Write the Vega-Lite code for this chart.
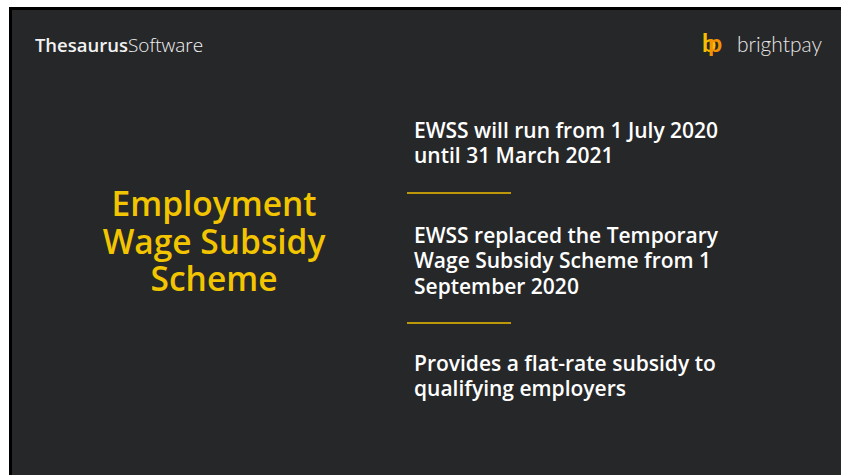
{
  "$schema": "https://vega.github.io/schema/vega-lite/v6.json",
  "width": 833,
  "height": 470,
  "padding": {"left": 10.5, "top": 8.5, "right": 0, "bottom": 0},
  "background": "#ffffff",
  "config": {
    "view": {"fill": "#262729", "stroke": "#000000", "strokeWidth": 3},
    "axis": {"disable": true},
    "scale": {"pointPadding": 0}
  },
  "datasets": {
    "header": [
      {"part": "Thesaurus", "anchor": "brand"},
      {"part": "Software", "anchor": "brand"},
      {"part": "brightpay", "anchor": "logo"},
      {"part": "b", "anchor": "logo"},
      {"part": "p", "anchor": "logo"}
    ],
    "title": [
      {"line": 1, "col": "left", "text": "Employment"},
      {"line": 2, "col": "left", "text": "Wage Subsidy"},
      {"line": 3, "col": "left", "text": "Scheme"}
    ],
    "points": [
      {"block": 1, "col": "right", "lines": 2, "text": "EWSS will run from 1 July 2020\nuntil 31 March 2021"},
      {"block": 2, "col": "right", "lines": 3, "text": "EWSS replaced the Temporary\nWage Subsidy Scheme from 1\nSeptember 2020"},
      {"block": 3, "col": "right", "lines": 2, "text": "Provides a flat-rate subsidy to\nqualifying employers"}
    ],
    "dividers": [
      {"divider": 1, "col": "right"},
      {"divider": 2, "col": "right"}
    ]
  },
  "layer": [
    {
      "data": {"name": "header"},
      "encoding": {
        "x": {"field": "anchor", "type": "nominal", "scale": {"type": "point", "padding": 0, "domain": ["brand", "logo"], "range": [117.5, 811.5]}, "axis": null},
        "y": {"field": "anchor", "type": "nominal", "scale": {"type": "point", "padding": 0, "domain": ["brand", "logo"], "range": [43.5, 43.5]}, "axis": null},
        "text": {"field": "part"}
      },
      "layer": [
        {"transform": [{"filter": "datum.part === 'Thesaurus'"}], "mark": {"type": "text", "align": "right", "baseline": "alphabetic", "font": "Open Sans", "fontSize": 18.5, "fontWeight": 600, "color": "#f2f2f2"}},
        {"transform": [{"filter": "datum.part === 'Software'"}], "mark": {"type": "text", "align": "left", "baseline": "alphabetic", "font": "Open Sans", "fontSize": 19, "fontWeight": 300, "color": "#f2f2f2"}},
        {"transform": [{"filter": "datum.part === 'brightpay'"}], "mark": {"type": "text", "align": "right", "baseline": "alphabetic", "font": "Lato", "fontSize": 21, "fontWeight": 300, "color": "#e6e6e6"}},
        {"transform": [{"filter": "datum.part === 'b'"}], "mark": {"type": "text", "align": "left", "baseline": "alphabetic", "dx": -120, "font": "Lato", "fontSize": 25, "fontWeight": "bold", "color": "#f5bf00"}},
        {"transform": [{"filter": "datum.part === 'p'"}], "mark": {"type": "text", "align": "left", "baseline": "alphabetic", "dx": -114, "font": "Lato", "fontSize": 25, "fontWeight": "bold", "color": "#f29200"}}
      ]
    },
    {
      "layer": [
        {
          "data": {"name": "title"},
          "mark": {"type": "text", "align": "center", "baseline": "alphabetic", "font": "Open Sans", "fontSize": 33.5, "fontWeight": 600, "color": "#f2c500"},
          "encoding": {
            "x": {"field": "col", "type": "nominal", "scale": {"type": "point", "padding": 0, "domain": ["left", "right"], "range": [203.5, 403.5]}, "axis": null},
            "y": {"field": "line", "type": "ordinal", "scale": {"type": "point", "padding": 0, "domain": [1, 2, 3], "range": [207.5, 282.5]}, "axis": null},
            "text": {"field": "text"}
          }
        },
        {
          "data": {"name": "points"},
          "encoding": {
            "x": {"field": "col", "type": "nominal", "scale": {"type": "point", "padding": 0, "domain": ["left", "right"], "range": [203.5, 403.5]}, "axis": null},
            "y": {"field": "block", "type": "ordinal", "scale": {"type": "point", "padding": 0, "domain": [1, 2, 3], "range": [111.8, 344.5]}, "axis": null},
            "text": {"field": "text"}
          },
          "layer": [
            {"transform": [{"filter": "datum.lines === 2"}], "mark": {"type": "text", "align": "left", "baseline": "line-top", "lineBreak": "\n", "lineHeight": 24.5, "font": "Open Sans", "fontSize": 21, "fontWeight": 600, "color": "#ffffff"}},
            {"transform": [{"filter": "datum.lines === 3"}], "mark": {"type": "text", "align": "left", "baseline": "middle", "lineBreak": "\n", "lineHeight": 25.5, "font": "Open Sans", "fontSize": 21, "fontWeight": 600, "color": "#ffffff"}}
          ]
        },
        {
          "data": {"name": "dividers"},
          "mark": {"type": "rule", "xOffset": -7, "x2Offset": 97, "color": "#efbe00", "strokeWidth": 1.5},
          "encoding": {
            "x": {"field": "col", "type": "nominal", "scale": {"type": "point", "padding": 0, "domain": ["left", "right"], "range": [203.5, 403.5]}, "axis": null},
            "x2": {"field": "col"},
            "y": {"field": "divider", "type": "ordinal", "scale": {"type": "point", "padding": 0, "domain": [1, 2], "range": [184.5, 314.5]}, "axis": null}
          }
        }
      ],
      "resolve": {"scale": {"y": "independent"}}
    }
  ],
  "resolve": {"scale": {"x": "independent", "y": "independent"}}
}
